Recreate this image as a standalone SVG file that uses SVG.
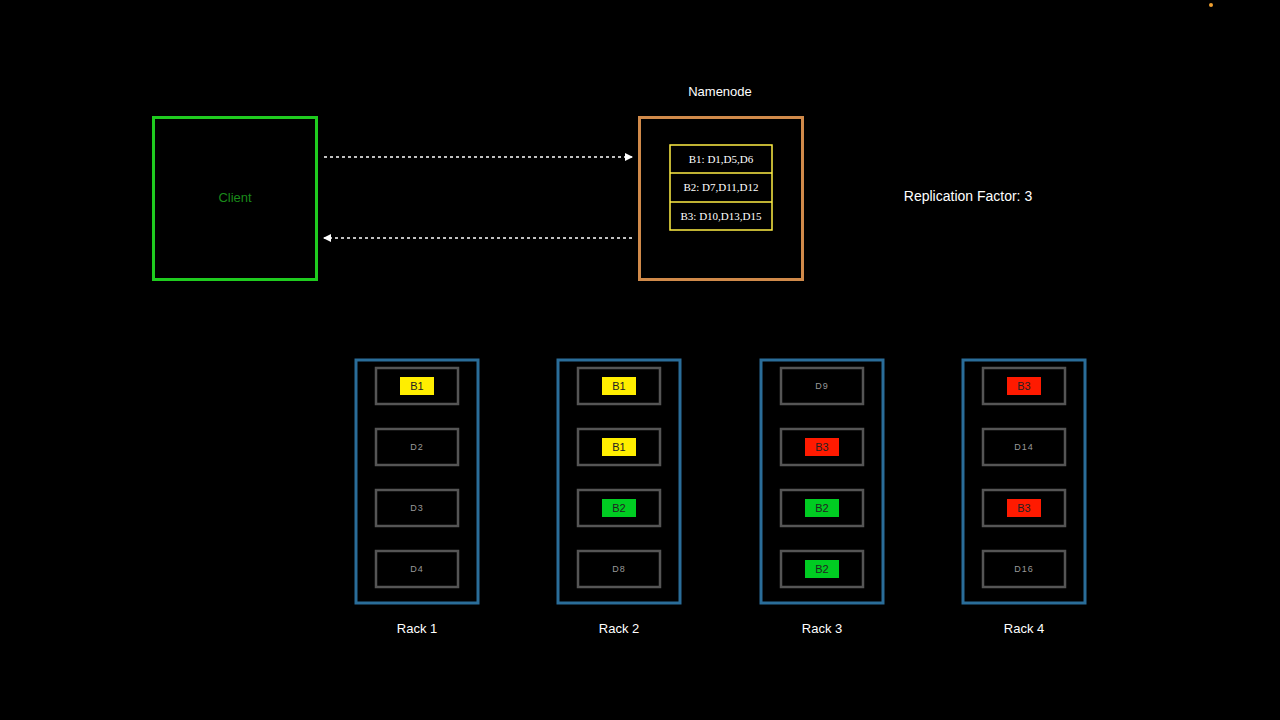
<svg xmlns="http://www.w3.org/2000/svg" width="1280" height="720" viewBox="0 0 1280 720">
<style>
.t{font-family:"Liberation Sans",Arial,sans-serif;fill:#fff;font-size:13px;text-anchor:middle}
.s{font-family:"Liberation Serif","Times New Roman",serif;fill:#fff;font-size:11px;text-anchor:middle}
.d{font-family:"Liberation Sans",Arial,sans-serif;fill:#999;font-size:9px;text-anchor:middle;letter-spacing:1px}
.b{font-family:"Liberation Sans",Arial,sans-serif;fill:#222;font-size:11px;text-anchor:middle}
.rack{fill:none;stroke:#2a6d99;stroke-width:3}
.slot{fill:none;stroke:#555;stroke-width:2.5}
.y{fill:#ffee00}.g{fill:#00cc22}.r{fill:#ff1a00}
</style>
<defs><marker id="a" markerWidth="8" markerHeight="8" refX="7" refY="4" orient="auto" markerUnits="userSpaceOnUse"><path d="M0,0 L8,4 L0,8 z" fill="#fff"/></marker></defs>
<rect width="1280" height="720" fill="#000"/>
<circle cx="1211" cy="5" r="2" fill="#f0a030"/>
<g id="client"><rect x="153.5" y="117.5" width="163" height="162" fill="none" stroke="#1fcc1f" stroke-width="3"/><text class="t" x="235" y="202" style="fill:#1a8a1a">Client</text></g>
<g id="namenode"><text class="t" x="720" y="96">Namenode</text><rect x="639.5" y="117.5" width="163" height="162" fill="none" stroke="#d08a4a" stroke-width="3"/>
<rect x="670" y="145" width="102" height="85" fill="none" stroke="#ffee44" stroke-width="1.5"/><line x1="670" y1="173" x2="772" y2="173" stroke="#ffee44" stroke-width="1.5"/><line x1="670" y1="202" x2="772" y2="202" stroke="#ffee44" stroke-width="1.5"/>
<text class="s" x="721" y="163">B1:  D1,D5,D6</text><text class="s" x="721" y="191">B2:  D7,D11,D12</text><text class="s" x="721" y="220">B3:  D10,D13,D15</text></g>
<text class="t" x="968" y="201" style="font-size:14px">Replication Factor: 3</text>
<g id="connectors" stroke="#fff" stroke-width="1.5" stroke-dasharray="3,3" fill="none">
<line x1="324" y1="157" x2="632" y2="157" marker-end="url(#a)"/>
<line x1="632" y1="238" x2="324" y2="238" marker-end="url(#a)"/></g>
<g id="rack1"><rect class="rack" x="356" y="360" width="122" height="243"/>
<rect class="slot" x="376" y="368" width="82" height="36"/><rect class="y" x="400" y="377" width="34" height="18"/><text class="b" x="417" y="390">B1</text>
<rect class="slot" x="376" y="429" width="82" height="36"/><text class="d" x="417" y="450">D2</text>
<rect class="slot" x="376" y="490" width="82" height="36"/><text class="d" x="417" y="511">D3</text>
<rect class="slot" x="376" y="551" width="82" height="36"/><text class="d" x="417" y="572">D4</text>
<text class="t" x="417" y="633">Rack 1</text></g>
<g id="rack2"><rect class="rack" x="558" y="360" width="122" height="243"/>
<rect class="slot" x="578" y="368" width="82" height="36"/><rect class="y" x="602" y="377" width="34" height="18"/><text class="b" x="619" y="390">B1</text>
<rect class="slot" x="578" y="429" width="82" height="36"/><rect class="y" x="602" y="438" width="34" height="18"/><text class="b" x="619" y="451">B1</text>
<rect class="slot" x="578" y="490" width="82" height="36"/><rect class="g" x="602" y="499" width="34" height="18"/><text class="b" x="619" y="512">B2</text>
<rect class="slot" x="578" y="551" width="82" height="36"/><text class="d" x="619" y="572">D8</text>
<text class="t" x="619" y="633">Rack 2</text></g>
<g id="rack3"><rect class="rack" x="761" y="360" width="122" height="243"/>
<rect class="slot" x="781" y="368" width="82" height="36"/><text class="d" x="822" y="389">D9</text>
<rect class="slot" x="781" y="429" width="82" height="36"/><rect class="r" x="805" y="438" width="34" height="18"/><text class="b" x="822" y="451">B3</text>
<rect class="slot" x="781" y="490" width="82" height="36"/><rect class="g" x="805" y="499" width="34" height="18"/><text class="b" x="822" y="512">B2</text>
<rect class="slot" x="781" y="551" width="82" height="36"/><rect class="g" x="805" y="560" width="34" height="18"/><text class="b" x="822" y="573">B2</text>
<text class="t" x="822" y="633">Rack 3</text></g>
<g id="rack4"><rect class="rack" x="963" y="360" width="122" height="243"/>
<rect class="slot" x="983" y="368" width="82" height="36"/><rect class="r" x="1007" y="377" width="34" height="18"/><text class="b" x="1024" y="390">B3</text>
<rect class="slot" x="983" y="429" width="82" height="36"/><text class="d" x="1024" y="450">D14</text>
<rect class="slot" x="983" y="490" width="82" height="36"/><rect class="r" x="1007" y="499" width="34" height="18"/><text class="b" x="1024" y="512">B3</text>
<rect class="slot" x="983" y="551" width="82" height="36"/><text class="d" x="1024" y="572">D16</text>
<text class="t" x="1024" y="633">Rack 4</text></g>
</svg>
